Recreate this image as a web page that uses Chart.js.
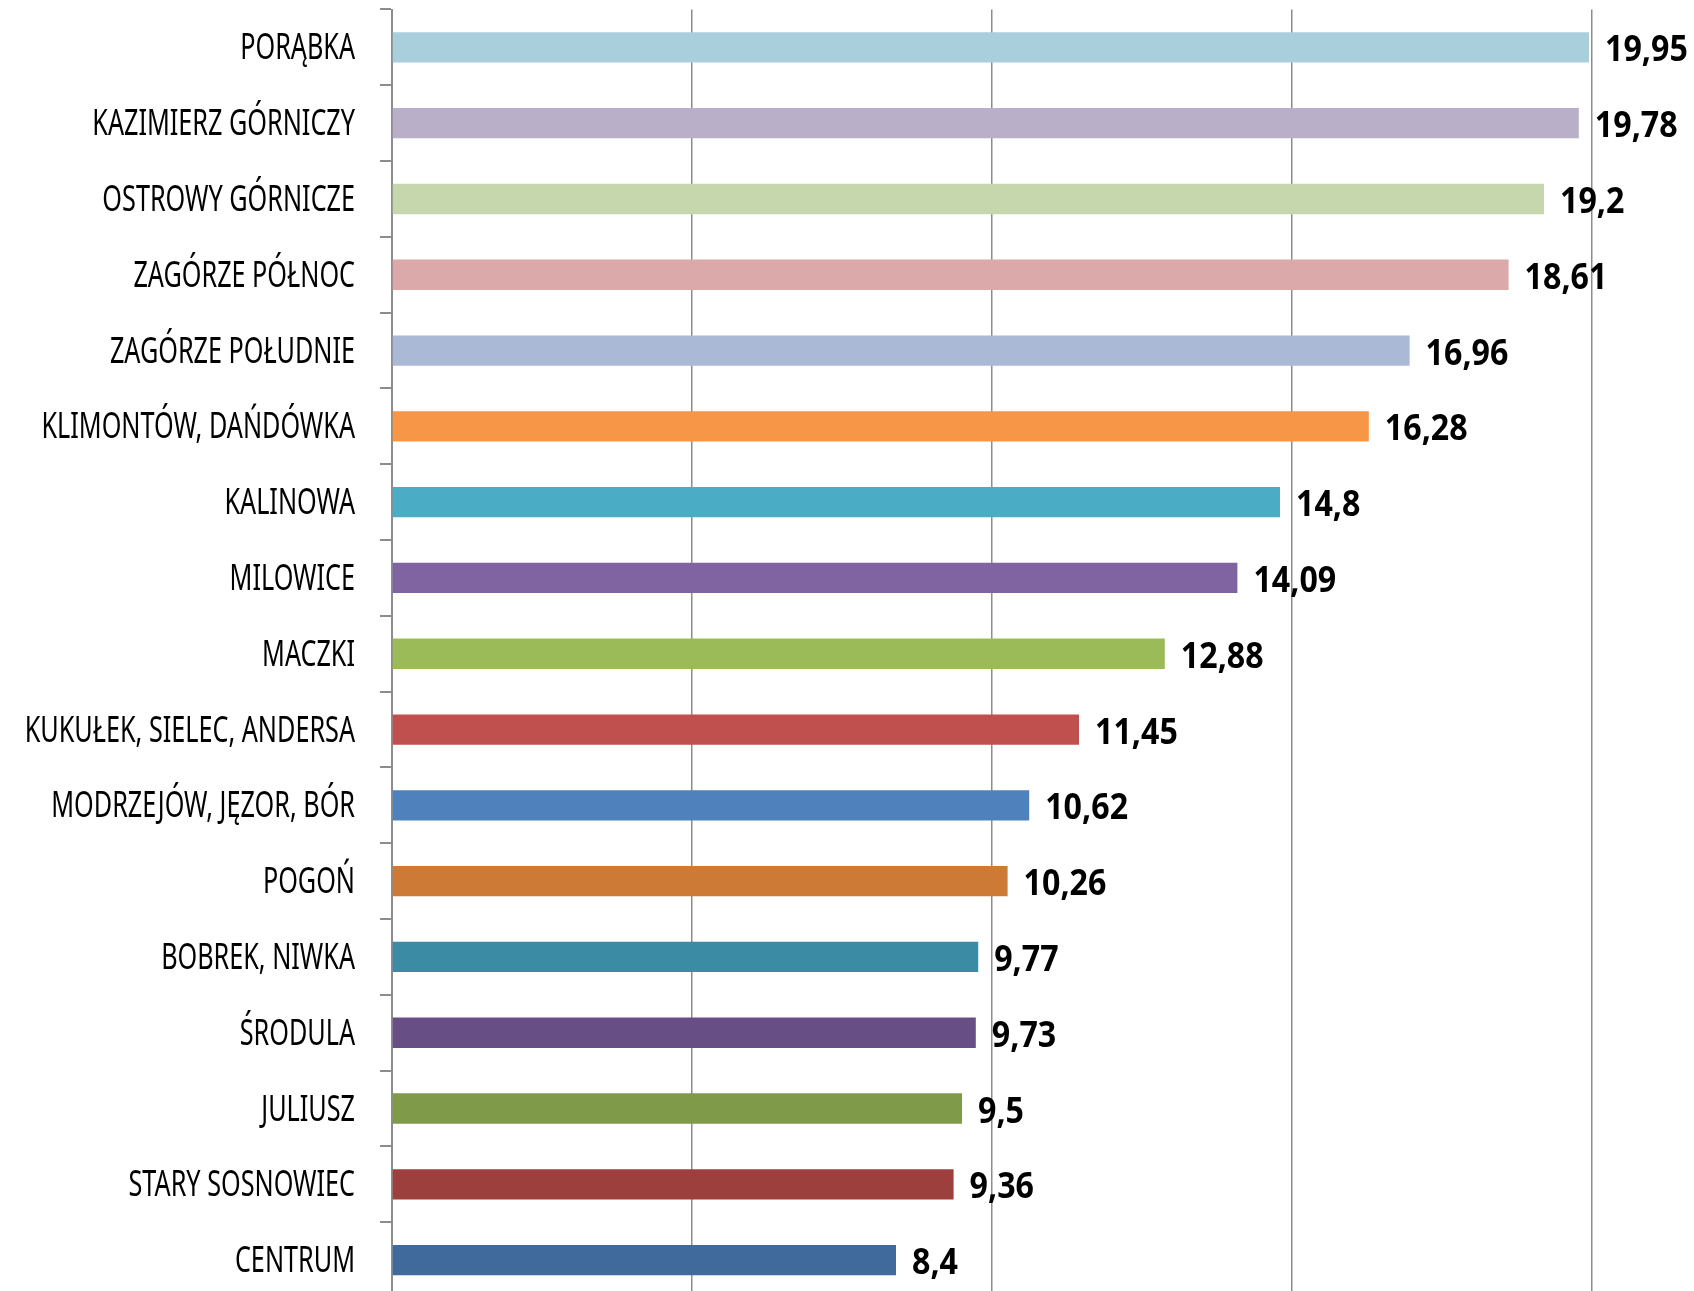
<!DOCTYPE html>
<html>
<head>
<meta charset="utf-8">
<script src="https://cdn.jsdelivr.net/npm/chart.js@4"></script>
<style>
  html, body { margin: 0; padding: 0; background: #fff; overflow: hidden; }
  #wrap { position: relative; width: 1694px; height: 1298px; }
</style>
</head>
<body>
<div id="wrap"><canvas id="bar-chart"></canvas></div>
<script>
/* horizontal bar chart — districts */

const districts = [
  'PORĄBKA', 'KAZIMIERZ GÓRNICZY', 'OSTROWY GÓRNICZE', 'ZAGÓRZE PÓŁNOC',
  'ZAGÓRZE POŁUDNIE', 'KLIMONTÓW, DAŃDÓWKA', 'KALINOWA', 'MILOWICE', 'MACZKI',
  'KUKUŁEK, SIELEC, ANDERSA', 'MODRZEJÓW, JĘZOR, BÓR', 'POGOŃ', 'BOBREK, NIWKA',
  'ŚRODULA', 'JULIUSZ', 'STARY SOSNOWIEC', 'CENTRUM'
];
const values = [19.95, 19.78, 19.2, 18.61, 16.96, 16.28, 14.8, 14.09, 12.88,
  11.45, 10.62, 10.26, 9.77, 9.73, 9.5, 9.36, 8.4];
const barColors = [
  '#a9cedc', '#b9afc9', '#c6d7ad', '#dba9a9', '#aab9d6', '#f79646', '#4bacc6',
  '#8064a2', '#9bbb59', '#c0504d', '#4f81bd', '#cd7a37', '#3a8ba3', '#674f86',
  '#7f9a48', '#9d3f3d', '#406a9b'
];
const axisMin = 0;
const axisMax = 20;
const axisStep = 5;

const FONT = "'Noto Sans', 'Open Sans', sans-serif";
const GRID = '#8c8c8c';

// draw condensed text: squeeze horizontally around the anchor point
function narrowText(ctx, txt, x, y, sx) {
  ctx.save();
  ctx.translate(x, y);
  ctx.scale(sx, 1);
  ctx.fillText(txt, 0, 0);
  ctx.restore();
}

// category names left of the axis (narrow face, like the original layout)
const categoryLabels = {
  id: 'categoryLabels',
  afterDraw(chart) {
    const ctx = chart.ctx;
    const yScale = chart.scales.y;
    const right = chart.chartArea.left - 37;
    ctx.save();
    ctx.font = '36px ' + FONT;
    ctx.fillStyle = '#000';
    ctx.textAlign = 'right';
    ctx.textBaseline = 'alphabetic';
    districts.forEach((name, i) => {
      narrowText(ctx, name, right, yScale.getPixelForTick(i) + 12, 0.7);
    });
    ctx.restore();
  }
};

// value labels at the end of each bar, decimal comma
const valueLabels = {
  id: 'valueLabels',
  afterDatasetsDraw(chart) {
    const ctx = chart.ctx;
    const meta = chart.getDatasetMeta(0);
    ctx.save();
    ctx.font = 'bold 35px ' + FONT;
    ctx.fillStyle = '#000';
    ctx.textAlign = 'left';
    ctx.textBaseline = 'alphabetic';
    meta.data.forEach((bar, i) => {
      const txt = String(values[i]).replace('.', ',');
      narrowText(ctx, txt, bar.x + 16, bar.y + 14, 0.92);
    });
    ctx.restore();
  }
};

new Chart(document.getElementById('bar-chart').getContext('2d'), {
  type: 'bar',
  data: {
    labels: districts,
    datasets: [{
      data: values,
      backgroundColor: barColors,
      borderWidth: 0,
      barPercentage: 0.4,
      categoryPercentage: 1
    }]
  },
  options: {
    indexAxis: 'y',
    responsive: true,
    maintainAspectRatio: false,
    animation: false,
    layout: { padding: { top: 9.5, right: 102, bottom: 0, left: 0 } },
    plugins: {
      legend: { display: false },
      tooltip: { enabled: false }
    },
    scales: {
      x: {
        min: axisMin,
        max: axisMax,
        border: { display: false },
        grid: { color: GRID, lineWidth: 1.5, drawTicks: false },
        ticks: { display: false, stepSize: axisStep },
        afterFit(scale) {
          scale.height = 0;
          scale.paddingLeft = scale.paddingRight = 0;
        }
      },
      y: {
        border: { color: GRID, width: 2 },
        grid: { drawOnChartArea: false, color: GRID, lineWidth: 2, tickLength: 12 },
        ticks: { display: false },
        afterFit(scale) {
          scale.width = 392;
          scale.paddingTop = scale.paddingBottom = 0;
        }
      }
    }
  },
  plugins: [valueLabels, categoryLabels]
});
</script>
</body>
</html>
